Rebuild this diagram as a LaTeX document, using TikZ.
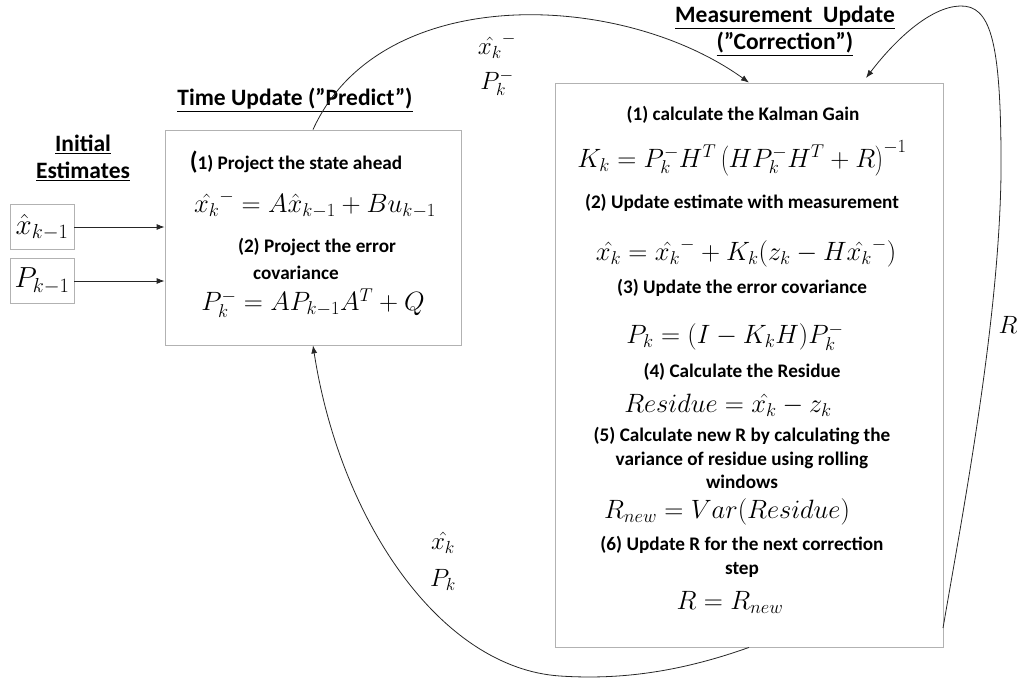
\documentclass[tikz,border=0pt]{standalone}
\usepackage{fix-cm}
\usepackage{fontspec}
\setmainfont{Carlito}
\usetikzlibrary{arrows.meta,shadows}
\begin{document}
\begin{tikzpicture}[x=1pt,y=-1pt,
  box/.style={draw=gray!60, line width=0.8pt, fill=white, inner sep=0pt,
    drop shadow={opacity=0.25, shadow xshift=1.2pt, shadow yshift=-1.2pt}},
  ibox/.style={draw=gray!60, line width=0.8pt, fill=white, inner sep=0pt,
    minimum width=64pt, minimum height=45pt},
  title/.style={font=\fontsize{23.5}{27}\selectfont\bfseries, align=center, inner sep=0pt},
  txt/.style={font=\fontsize{19.2}{23.5}\selectfont\bfseries, align=center, inner sep=0pt},
  eq/.style={font=\fontsize{26.5}{30}\selectfont, inner sep=0pt},
  lbl/.style={font=\fontsize{25}{30}\selectfont, inner sep=0pt},
  conn/.style={draw=black!85, line width=0.8pt, -{Latex[length=8pt,width=6pt]}}
]
\useasboundingbox (0,0) rectangle (1024,685);

% boxes
\node[box, minimum width=296pt, minimum height=215pt] (pred) at (313,237.5) {};
\node[box, minimum width=388pt, minimum height=564pt] (corr) at (749,365) {};
\node[ibox, font=\fontsize{29}{32}\selectfont] (xb) at (42,227) {$\hat{x}_{k-1}$};
\node[ibox, font=\fontsize{29}{32}\selectfont] (pb) at (42,281) {$P_{k-1}$};

% titles
\node[title] (tinit) at (83,158) {\underline{Initial}\\\underline{Estimates}};
\node[title] (tpred) at (295,100) {\underline{Time Update (”Predict”)}};
\node[title] (tcorr) at (785,31) {\underline{Measurement\ \ Update}\\\underline{(”Correction”)}};

% predict box content
\node[txt] (p1) at (296,162) {{\fontsize{25}{25}\selectfont(}1) Project the state ahead};
\node[eq] (pe1) at (315,204) {$\hat{x_k}^{-} = A\hat{x}_{k-1} + Bu_{k-1}$};
\node[txt] (p2) at (317,247) {(2) Project the error};
\node[txt] (p2b) at (296,273) {covariance};
\node[eq] (pe2) at (313,303) {$P_k^{-} = AP_{k-1}A^{T} + Q$};

% correction box content
\node[txt] (c1) at (743,115) {(1) calculate the Kalman Gain};
\node[eq] (ce1) at (742,158) {$K_k = P_k^{-}H^{T}\left(HP_k^{-}H^{T}+R\right)^{-1}$};
\node[txt] (c2) at (742,203) {(2) Update estimate with measurement};
\node[eq] (ce2) at (746,253) {$\hat{x_k} = \hat{x_k}^{-} + K_k(z_k - H\hat{x_k}^{-})$};
\node[txt] (c3) at (742,288) {(3) Update the error covariance};
\node[eq] (ce3) at (735,337) {$P_k = (I - K_kH)P_k^{-}$};
\node[txt] (c4) at (742,372) {(4) Calculate the Residue};
\node[eq] (ce4) at (728,405) {$Residue = \hat{x_k} - z_k$};
\node[txt] (c5) at (742,458) {(5) Calculate new R by calculating the\\variance of residue using rolling\\windows};
\node[eq] (ce5) at (727,512) {$R_{new} = Var(Residue)$};
\node[txt] (c6) at (742,557) {(6) Update R for the next correction\\step};
\node[eq] (ce6) at (730,602) {$R = R_{new}$};

% labels
\node[lbl] (lx1) at (497,46) {$\hat{x_k}^{-}$};
\node[lbl] (lp1) at (497,83) {$P_k^{-}$};
\node[lbl] (lx2) at (443,543) {$\hat{x_k}$};
\node[lbl] (lp2) at (443,580) {$P_k$};
\node[lbl] (lr) at (1008,325) {$R$};

% connectors
\draw[conn] (xb.east) -- (pred.west |- xb.east);
\draw[conn] (pb.east) -- (pred.west |- pb.east);
\draw[conn] (pred.north) .. controls (380,-18) and (620,-10) .. (corr.north);
\coordinate (rs) at (943,628);
\coordinate (rm) at (1001,150);
\coordinate (rt) at (960,6);
\coordinate (re) at (866,78);
\draw[conn] (rs) .. controls (965,500) and (1003,300) .. (rm)
  .. controls (1000,40) and (990,5) .. (rt)
  .. controls (930,7) and (895,40) .. (re);
\coordinate (bm) at (560,676);
\draw[conn] (corr.south) .. controls (680,672) and (620,680) .. (bm)
  .. controls (440,668) and (340,520) .. (pred.south);
\end{tikzpicture}
\end{document}
